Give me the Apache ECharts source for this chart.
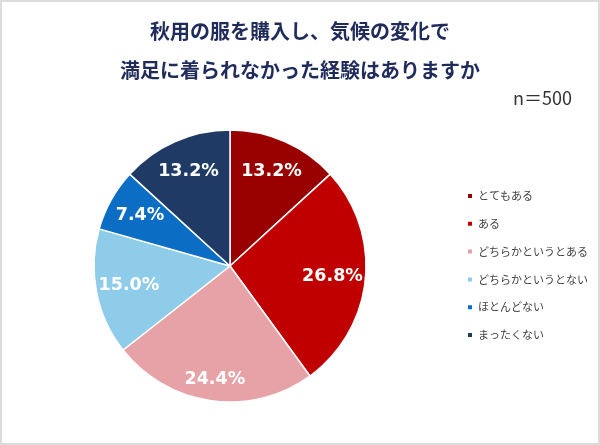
<!DOCTYPE html>
<html><head><meta charset="utf-8">
<script src="https://cdn.jsdelivr.net/npm/echarts@6/dist/echarts.min.js"></script>
<style>html,body{margin:0;padding:0;background:#fff}#c{width:600px;height:445px}</style>
</head><body><div id="c"></div>
<script>
const categories = ['とてもある','ある','どちらかというとある','どちらかというとない','ほとんどない','まったくない'];
const values = [13.2, 26.8, 24.4, 15.0, 7.4, 13.2];
const colors = ['#990000','#C00000','#E6A2A6','#8ECCEA','#0B6DC4','#1F3A64'];
const titleLines = ['秋用の服を購入し、気候の変化で','満足に着られなかった経験はありますか'];
const sampleLabel = 'n＝500';

const chart = echarts.init(document.getElementById('c'), null, {renderer:'canvas'});
const CX = 230, CY = 266, R = 136;
const data = categories.map((n,i)=>({name:n, value:values[i], itemStyle:{color:colors[i]}}));
chart.setOption({
  backgroundColor:'#fff',
  animation:false,
  title:[
    {text:titleLines.join('\n'), left:'center', top:12, padding:0,
     textStyle:{fontFamily:'Noto Sans CJK JP', fontWeight:'bold', fontSize:20, lineHeight:39, color:'#1F2B5B'}},
    {text:sampleLabel, right:28, top:89, padding:0,
     textStyle:{fontFamily:'Noto Sans CJK JP', fontWeight:'normal', fontSize:18, color:'#333'}}
  ],
  legend:{
    orient:'vertical', left:466, top:189, padding:0, data:categories,
    itemWidth:6, itemHeight:6, itemGap:13.8, icon:'rect',
    textStyle:{fontFamily:'Noto Sans CJK JP', fontSize:11, lineHeight:14, color:'#404040', padding:[0,0,0,0]}
  },
  graphic:[{type:'rect', shape:{x:1,y:1,width:598,height:443}, style:{fill:'none', stroke:'#dcdcdc', lineWidth:2}, silent:true, z:100}],
  series:[
    {type:'pie', center:[CX,CY], radius:[0,R], startAngle:90, clockwise:true,
     data:data, label:{show:false}, labelLine:{show:false},
     itemStyle:{borderColor:'#fff', borderWidth:1.5}, emphasis:{disabled:true}, silent:true},
    {type:'pie', center:[CX,CY], radius:[64,R], startAngle:90, clockwise:true,
     data:categories.map((n,i)=>({name:n, value:values[i]})),
     itemStyle:{color:'rgba(0,0,0,0)', borderWidth:0}, silent:true, emphasis:{disabled:true},
     legendHoverLink:false,
     label:{show:true, position:'inside', formatter:p=>p.value.toFixed(1)+'%',
            color:'#fff', fontFamily:'DejaVu Sans', fontWeight:'bold', fontSize:17.5},
     labelLine:{show:false},
     labelLayout:function(p){ if(p.dataIndex===2) return {dx:-1, dy:11}; return {}; }
    }
  ]
});
</script></body></html>
